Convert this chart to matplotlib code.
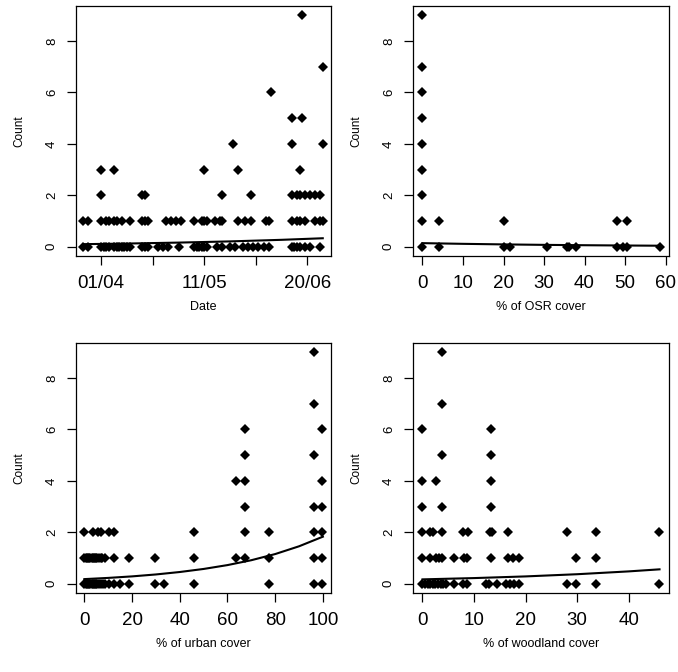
import matplotlib
matplotlib.use("Agg")
import matplotlib.pyplot as plt

plt.rcParams['font.family'] = ['Liberation Sans', 'DejaVu Sans']

# ---------------- data ----------------
# Panel 1: day offset from 01/04, grouped by count
date_by_count = {
    0: [-7, -5, 0, 1, 2, 3, 5, 6, 7, 8, 9, 10, 11, 16, 17, 18, 22, 24, 26, 30,
        36, 37, 38, 39, 40, 41, 45, 47, 50, 52, 55, 57, 59, 61, 63, 65,
        74, 75, 76, 77, 79, 81, 85],
    1: [-7, -5, 0, 2, 3, 5, 6, 8, 11, 16, 17, 18, 25, 27, 29, 31, 36, 39, 40,
        41, 44, 46, 47, 53, 56, 58, 64, 65, 74, 76, 77, 79, 83, 85, 86],
    2: [0, 16, 17, 47, 58, 74, 76, 77, 79, 81, 83, 85],
    3: [0, 5, 40, 53, 77],
    4: [51, 74, 86],
    5: [74, 78],
    6: [66],
    7: [86],
    9: [78],
}
date_ticks = [0, 20, 40, 60, 80]
date_tick_labels = ["01/04", "", "11/05", "", "20/06"]
date_fit_x = [-7, 10, 30, 50, 70, 86]
date_fit_y = [0.10, 0.124, 0.161, 0.208, 0.269, 0.33]

# Panel 2: % OSR cover
osr_by_count = {
    0: [0, 4, 20, 21.5, 30.7, 35.7, 36.2, 37.8, 48, 49.5, 50.5, 58.5],
    1: [0, 4, 20, 48, 50.5],
    2: [0], 3: [0], 4: [0], 5: [0], 6: [0], 7: [0], 9: [0],
}
osr_ticks = [0, 10, 20, 30, 40, 50, 60]
osr_fit_x = [0, 10, 20, 30, 40, 50, 58.5]
osr_fit_y = [0.14, 0.113, 0.091, 0.073, 0.059, 0.048, 0.040]

# Panel 3: % urban cover
urban_by_count = {
    0: [0, 0.5, 1, 1.5, 2, 2.5, 3, 3.5, 4, 4.5, 5, 5.5, 6, 7, 8, 8.8, 10.2,
        12.3, 15.1, 18.9, 29.5, 33.2, 45.8, 77.2, 96.1, 99.6],
    1: [0, 0.5, 1, 1.5, 2, 2.5, 3, 3.5, 4, 4.5, 5, 5.5, 6, 7, 7.4, 8.8, 12.6,
        18.9, 29.5, 45.8, 63.7, 67.2, 77.2, 96.1, 99.6],
    2: [0, 3.5, 5.6, 7.0, 10.2, 12.6, 45.8, 67.2, 77.2, 96.1, 99.6],
    3: [67.2, 96.1, 99.6],
    4: [63.7, 67.2, 99.6],
    5: [67.2, 96.1],
    6: [67.2, 99.6],
    7: [96.1],
    9: [96.1],
}
urban_ticks = [0, 20, 40, 60, 80, 100]
urban_fit_x = [0, 10, 20, 30, 40, 50, 60, 70, 80, 90, 100]
urban_fit_y = [0.18, 0.227, 0.286, 0.361, 0.456, 0.575, 0.725, 0.915, 1.154, 1.456, 1.83]

# Panel 4: % woodland cover
wood_by_count = {
    0: [0, 0.5, 1, 1.5, 2, 2.5, 3, 3.5, 4, 4.5, 6.2, 7.9, 8.6, 12.3, 13.0,
        14.4, 16.3, 17.0, 17.8, 18.7, 28.0, 29.7, 33.7, 45.9],
    1: [0, 1.4, 2.6, 3.2, 3.7, 6.2, 8.1, 8.6, 13.3, 16.5, 17.6, 18.7, 29.7, 33.7],
    2: [0, 1.4, 2.1, 3.7, 7.8, 8.8, 13.1, 13.5, 16.5, 28.0, 33.7, 45.9],
    3: [0, 3.7, 13.3],
    4: [0, 2.7, 13.3],
    5: [3.7, 13.3],
    6: [0, 13.3],
    7: [3.7],
    9: [3.7],
}
wood_ticks = [0, 10, 20, 30, 40]
wood_fit_x = [0, 10, 20, 30, 40, 46]
wood_fit_y = [0.17, 0.22, 0.285, 0.37, 0.48, 0.56]

y_ticks = [0, 2, 4, 6, 8]

# ---------------- figure ----------------
W, H = 678, 672
fig = plt.figure(figsize=(W / 100, H / 100), dpi=100)

def rect(l, t, r, b):
    return [l / W, 1 - b / H, (r - l) / W, (b - t) / H]

panels = [
    (rect(76, 6, 331, 256), date_by_count, date_ticks, date_tick_labels,
     (-9.8, 89.2), date_fit_x, date_fit_y, "Date"),
    (rect(413, 6, 669, 256), osr_by_count, osr_ticks, [str(t) for t in osr_ticks],
     (-2.34, 60.84), osr_fit_x, osr_fit_y, "% of OSR cover"),
    (rect(76, 343, 331, 593), urban_by_count, urban_ticks, [str(t) for t in urban_ticks],
     (-3.5, 103.4), urban_fit_x, urban_fit_y, "% of urban cover"),
    (rect(413, 343, 669, 593), wood_by_count, wood_ticks, [str(t) for t in wood_ticks],
     (-1.84, 47.84), wood_fit_x, wood_fit_y, "% of woodland cover"),
]

for pos, data, xt, xtl, xlim, fx, fy, xlabel in panels:
    ax = fig.add_axes(pos)
    xs, ys = [], []
    for c, vals in data.items():
        xs += vals
        ys += [c] * len(vals)
    ax.plot(xs, ys, linestyle='none', marker='D', markersize=5.6,
            color='black', markeredgewidth=0)
    ax.plot(fx, fy, color='black', linewidth=1.5)
    ax.set_xlim(*xlim)
    ax.set_ylim(-0.36, 9.36)
    ax.set_xticks(xt)
    ax.set_xticklabels(xtl, fontsize=13.5)
    ax.set_yticks(y_ticks)
    ax.set_yticklabels([str(t) for t in y_ticks], fontsize=9.5, rotation=90,
                       va='center')
    ax.tick_params(axis='both', direction='out', length=6.5, width=0.9,
                   color='black')
    ax.tick_params(axis='x', pad=7.5)
    ax.tick_params(axis='y', pad=6.5)
    for s in ax.spines.values():
        s.set_linewidth(0.9)
    ax.set_xlabel(xlabel, fontsize=9, labelpad=6)
    ax.set_ylabel("Count", fontsize=8.5, labelpad=15)

fig.savefig("out.png", dpi=100)
